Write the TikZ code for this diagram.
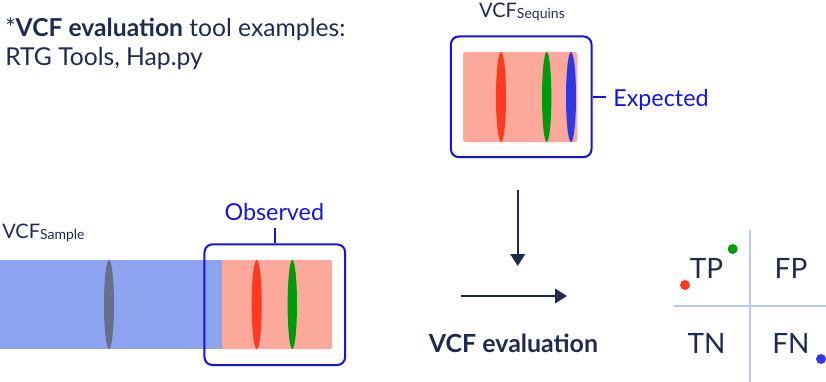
\documentclass[tikz,border=0pt]{standalone}
\usepackage{fontspec}
\setmainfont{Lato}
\usepackage{xcolor}
\usetikzlibrary{arrows.meta,positioning}
\definecolor{navy}{HTML}{1F2A4F}
\definecolor{boxblue}{HTML}{1414E2}
\definecolor{salmon}{HTML}{FCA89A}
\definecolor{barblue}{HTML}{8CA4F0}
\definecolor{varred}{HTML}{FF3A1E}
\definecolor{vargreen}{HTML}{009A0A}
\definecolor{varblue}{HTML}{3038E6}
\definecolor{vargray}{HTML}{686F8C}
\definecolor{gridblue}{HTML}{B9C9F7}
\tikzset{
  vcfbox/.style={draw=boxblue, line width=1.5pt, rounded corners=6pt, minimum width=105.5pt, minimum height=90.5pt, inner sep=0pt},
  tag/.style={text=boxblue, font=\fontsize{17.5}{20}\selectfont, inner sep=0pt},
  cell/.style={text=navy, font=\fontsize{21}{24}\selectfont},
  flow/.style={draw=navy, line width=1.5pt, -{Triangle[width=11pt,length=9pt]}},
  dot/.style={radius=3.75pt}
}
\begin{document}
\begin{tikzpicture}[x=0.75pt, y=-0.75pt, text=navy]
\useasboundingbox (0,0) rectangle (826,382);
 %Nodes
	\node[anchor=base west, inner sep=0pt, font=\fontsize{18.5}{22}\selectfont] (title) at (5,36.5) {*\textbf{VCF evaluation} tool examples:};
	\node[anchor=base west, inner sep=0pt, font=\fontsize{18.5}{22}\selectfont] (tools) at ([yshift=-22pt]title.base west) {RTG Tools, Hap.py};
	\node[anchor=base, inner sep=0pt, font=\fontsize{15}{17}\selectfont] (seqlabel) at (522,17.3) {VCF\raisebox{-0.75pt}{\fontsize{10.5}{12}\selectfont Sequins}};
	\node[anchor=base west, inner sep=0pt, font=\fontsize{15}{17}\selectfont] (samplabel) at (2,238.3) {VCF\raisebox{-0.75pt}{\fontsize{10.5}{12}\selectfont Sample}};
	% sequins track
	\fill[salmon, rounded corners=1.5pt] (463,52) rectangle (577,142);
	\fill[varred] (501,97) ellipse [x radius=3.75pt, y radius=33.75pt];
	\fill[vargreen] (546.7,97) ellipse [x radius=3.5pt, y radius=33.75pt];
	\fill[varblue] (571,97) ellipse [x radius=3.75pt, y radius=33.75pt];
	\node[vcfbox] (expbox) at (521.2,96.8) {};
	\node[tag, anchor=base west] (explabel) at (613,106) {Expected};
	% sample track
	\fill[barblue] (0,260) rectangle (220,349);
	\fill[salmon, rounded corners=1.5pt] (219,260) rectangle (332,349);
	\fill[barblue] (219,260) rectangle (222,349);
	\fill[vargray] (109,304.5) ellipse [x radius=3.75pt, y radius=33.4pt];
	\fill[varred] (256.7,304.5) ellipse [x radius=3.75pt, y radius=33.4pt];
	\fill[vargreen] (292.3,304.5) ellipse [x radius=3.5pt, y radius=33.4pt];
	\node[vcfbox] (obsbox) at (274.8,304.7) {};
	\node[tag, anchor=base] (obslabel) at (274.3,220) {Observed};
	% evaluation
	\coordinate (downtop) at (517.7,190);
	\coordinate (downend) at (517.7,266);
	\coordinate (rightstart) at (460.7,296);
	\coordinate (rightend) at (567,296);
	\node[anchor=base, inner sep=0pt, font=\bfseries\fontsize{18.7}{22}\selectfont] (evallabel) at (513.5,352.5) {VCF evaluation};
	% confusion grid
	\draw[gridblue, line width=1.5pt] (750,230) -- (750,382);
	\draw[gridblue, line width=1.5pt] (674,306) -- (826,306);
	\node[cell] (tp) at (706.5,268.5) {TP};
	\node[cell] (fp) at (791,268.5) {FP};
	\node[cell] (tn) at (706.5,343.5) {TN};
	\node[cell] (fn) at (791,343.5) {FN};
	\fill[vargreen] (732.7,249) circle [dot];
	\fill[varred] (685,285) circle [dot];
	\fill[varblue] (821,359) circle [dot];
	% Arrows
	\draw[boxblue, line width=1.5pt] (expbox.east) -- ([xshift=-5pt]expbox.east -| explabel.west);
	\draw[boxblue, line width=1.5pt] (obsbox.north) -- ([yshift=-6pt]obsbox.north |- obslabel.base);
	\draw[flow] (downtop) -- (downend);
	\draw[flow] (rightstart) -- (rightend);
\end{tikzpicture}
\end{document}
